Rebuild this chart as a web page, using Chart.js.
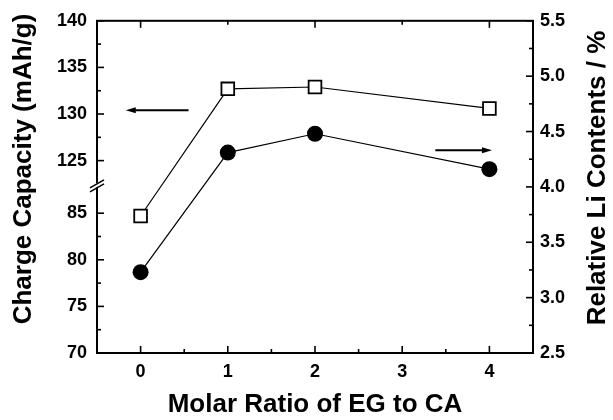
<!DOCTYPE html>
<html>
<head>
<meta charset="utf-8">
<script src="https://cdn.jsdelivr.net/npm/chart.js@4.4.1/dist/chart.umd.min.js"></script>
<style>
  html, body { margin: 0; padding: 0; background: #fff; }
  #wrap { width: 613px; height: 420px; }
</style>
</head>
<body>
<div id="wrap"><canvas id="chart" width="613" height="420"></canvas></div>
<script>
// x categories (molar ratio EG : CA)
const ratios = [0, 1, 2, 4];
// open squares, left axis (mAh/g)
const capacity = [84.7, 132.7, 132.9, 130.6];
// filled circles, right axis (%)
const liContent = [3.23, 4.31, 4.48, 4.16];

// left axis is broken between 85 and 125
const leftTickValues = [70, 75, 80, 85, 125, 130, 135, 140];
const leftMinorValues = [72.5, 77.5, 82.5, 127.5, 132.5, 137.5];
const rightMinorValues = [2.75, 3.25, 3.75, 4.25, 4.75, 5.25];
const xTickValues = [0, 1, 2, 3, 4];
const xMinorValues = [0.5, 1.5, 2.5, 3.5];
const topMajorValues = [0, 2, 4];
const topMinorValues = [1, 3];

// arrows pointing at their axes: [x from, x to, y value]
const leftArrow = [0.55, -0.17, 130.4];
const rightArrow = [3.38, 4.03, 4.33];

const breakLow = 85, breakHigh = 125, breakGap = 5.64;
function toAxis(v) {
    return v <= breakLow ? v : v - breakHigh + breakLow + breakGap;
}

const FONT = '"Liberation Sans", Arial, sans-serif';

const framePlugin = {
    id: 'frame',
    afterDraw(chart) {
        const { ctx, chartArea: a, scales } = chart;
        const x = scales.x, y = scales.y, y2 = scales.y2;
        const MAJ = 7, MIN = 4;
        ctx.save();
        ctx.strokeStyle = '#000';
        ctx.lineWidth = 1.6;
        const line = (x1, y1, x2, y2_) => { ctx.beginPath(); ctx.moveTo(x1, y1); ctx.lineTo(x2, y2_); ctx.stroke(); };

        // inside ticks
        leftTickValues.forEach(v => { const p = y.getPixelForValue(toAxis(v)); line(a.left, p, a.left + MAJ, p); });
        leftMinorValues.forEach(v => { const p = y.getPixelForValue(toAxis(v)); line(a.left, p, a.left + MIN, p); });
        y2.ticks.forEach(t => { const p = y2.getPixelForValue(t.value); line(a.right, p, a.right - MAJ, p); });
        rightMinorValues.forEach(v => { const p = y2.getPixelForValue(v); line(a.right, p, a.right - MIN, p); });
        xTickValues.forEach(v => { const p = x.getPixelForValue(v); line(p, a.bottom, p, a.bottom - MAJ); });
        xMinorValues.forEach(v => { const p = x.getPixelForValue(v); line(p, a.bottom, p, a.bottom - MIN); });
        topMajorValues.forEach(v => { const p = x.getPixelForValue(v); line(p, a.top, p, a.top + MAJ); });
        topMinorValues.forEach(v => { const p = x.getPixelForValue(v); line(p, a.top, p, a.top + MIN); });

        // frame
        ctx.lineWidth = 2;
        ctx.strokeRect(a.left, a.top, a.right - a.left, a.bottom - a.top);

        // axis break marks
        const mid = y.getPixelForValue(breakLow + breakGap / 2);
        ctx.fillStyle = '#fff';
        ctx.beginPath();
        ctx.moveTo(a.left - 7, mid + 4); ctx.lineTo(a.left + 7, mid - 4);
        ctx.lineTo(a.left + 7, mid - 8); ctx.lineTo(a.left - 7, mid);
        ctx.closePath(); ctx.fill();
        ctx.lineWidth = 1.5;
        line(a.left - 7, mid + 5, a.left + 7, mid - 3);
        line(a.left - 7, mid + 1, a.left + 7, mid - 7);

        // arrows
        const arrow = (xs, xe, py) => {
            const p1 = x.getPixelForValue(xs), p2 = x.getPixelForValue(xe);
            const d = Math.sign(p2 - p1);
            ctx.lineWidth = 2;
            line(p1, py, p2 - d * 6, py);
            ctx.fillStyle = '#000';
            ctx.beginPath();
            ctx.moveTo(p2, py); ctx.lineTo(p2 - d * 10, py - 3); ctx.lineTo(p2 - d * 10, py + 3);
            ctx.closePath(); ctx.fill();
        };
        arrow(leftArrow[0], leftArrow[1], y.getPixelForValue(toAxis(leftArrow[2])));
        arrow(rightArrow[0], rightArrow[1], y2.getPixelForValue(rightArrow[2]));

        // axis titles
        ctx.fillStyle = '#000';
        ctx.font = 'bold 26px ' + FONT;
        ctx.textAlign = 'center';
        ctx.textBaseline = 'middle';
        ctx.fillText('Molar Ratio of EG to CA', 315, 405);
        ctx.save();
        ctx.translate(24, 169);
        ctx.rotate(-Math.PI / 2);
        ctx.fillText('Charge Capacity (mAh/g)', 0, 0);
        ctx.restore();
        ctx.save();
        ctx.translate(598, 178);
        ctx.rotate(-Math.PI / 2);
        ctx.fillText('Relative Li Contents / %', 0, 0);
        ctx.restore();
        ctx.restore();
    }
};

const tickFont = { family: FONT, size: 18, weight: 'bold' };

new Chart(document.getElementById('chart'), {
    type: 'line',
    data: {
        datasets: [
            {
                label: 'Charge capacity',
                data: ratios.map((r, i) => ({ x: r, y: toAxis(capacity[i]) })),
                yAxisID: 'y',
                borderColor: '#000', borderWidth: 1.2,
                pointStyle: 'rect', pointRadius: 9, pointBorderWidth: 1.8,
                pointBackgroundColor: '#fff', pointBorderColor: '#000',
                tension: 0
            },
            {
                label: 'Relative Li contents',
                data: ratios.map((r, i) => ({ x: r, y: liContent[i] })),
                yAxisID: 'y2',
                borderColor: '#000', borderWidth: 1.2,
                pointStyle: 'circle', pointRadius: 8, pointBorderWidth: 0,
                pointBackgroundColor: '#000', pointBorderColor: '#000',
                tension: 0
            }
        ]
    },
    options: {
        responsive: false,
        animation: false,
        layout: { padding: { top: 18, left: 0, right: 0, bottom: 0 } },
        plugins: { legend: { display: false }, tooltip: { enabled: false } },
        scales: {
            x: {
                type: 'linear', min: -0.5, max: 4.5,
                afterBuildTicks: s => { s.ticks = xTickValues.map(v => ({ value: v })); },
                afterFit: s => { s.height = 67; },
                grid: { display: false, drawTicks: false },
                border: { display: false },
                ticks: { color: '#000', font: tickFont, padding: 8, maxRotation: 0 }
            },
            y: {
                type: 'linear', position: 'left',
                min: 70, max: toAxis(140),
                afterBuildTicks: s => { s.ticks = leftTickValues.map(v => ({ value: toAxis(v) })); },
                afterFit: s => { s.width = 97; },
                grid: { display: false, drawTicks: false },
                border: { display: false },
                ticks: { color: '#000', font: tickFont, padding: 10, callback: (v, i) => String(leftTickValues[i]) }
            },
            y2: {
                type: 'linear', position: 'right',
                min: 2.5, max: 5.5,
                afterFit: s => { s.width = 80; },
                grid: { display: false, drawTicks: false },
                border: { display: false },
                ticks: { color: '#000', font: tickFont, padding: 7, stepSize: 0.5, callback: v => v.toFixed(1) }
            }
        }
    },
    plugins: [framePlugin]
});
</script>
</body>
</html>
